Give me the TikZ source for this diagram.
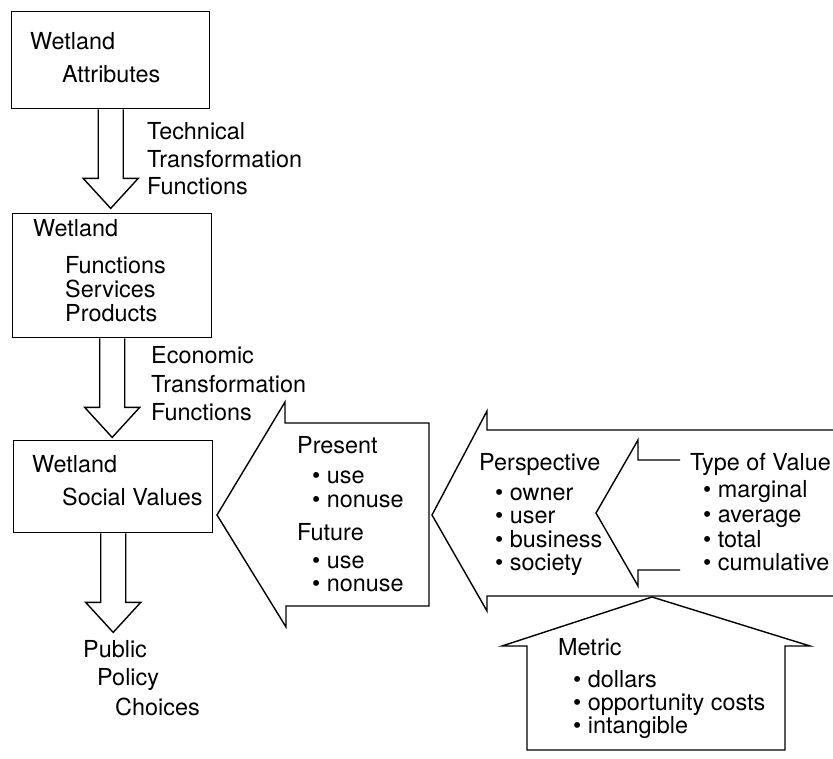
\documentclass[tikz,border=0pt]{standalone}
\usepackage{fontspec}
\setmainfont{TeX Gyre Heros}
\usepackage{tikz}

\begin{document}
\begin{tikzpicture}[x=1pt,y=-1pt,
      bx/.style={draw,line width=1.4pt,inner sep=0pt,anchor=north west},
      lbl/.style={anchor=base west,inner sep=0pt,font=\fontsize{23.4}{26}\selectfont},
      blk/.style={draw,line width=1.4pt,line join=miter}]
    \useasboundingbox (0,0) rectangle (833,759);
    % the three wetland boxes
    \node[bx,minimum width=198pt,minimum height=97pt] (attr) at (11,11) {};
    \node[bx,minimum width=199pt,minimum height=124pt] (func) at (12,213) {};
    \node[bx,minimum width=199pt,minimum height=92pt] (soc) at (13,440) {};
    \foreach \a in {attr,func,soc} {
      \draw[blk] ([xshift=-12.5pt]\a.south) -- ++(0,69) -- ++(-15,0) -- ++(27.5,30)
        -- ++(27.5,-30) -- ++(-15,0) -- ++(0,-69);
    }
    \node[lbl] (wattr) at (30,50) {Wetland};
    \node[lbl] (attrib) at (62,83) {Attributes};
    \foreach \t/\y [count=\i] in {Technical/140,Transformation/168,Functions/195}
      \node[lbl] (tech\i) at (147,\y) {\t};
    \node[lbl] (wfunc) at (33,237) {Wetland};
    \foreach \t/\y [count=\i] in {Functions/274,Services/298,Products/322}
      \node[lbl] (fsp\i) at (65,\y) {\t};
    \foreach \t/\y [count=\i] in {Economic/363,Transformation/392,Functions/420}
      \node[lbl] (econ\i) at (151,\y) {\t};
    \node[lbl] (wsoc) at (32,472) {Wetland};
    \node[lbl] (socval) at (62,505) {Social Values};
    \node[lbl] (pub1) at (83,657) {Public};
    \node[lbl] (pub2) at (97,685) {Policy};
    \node[lbl] (pub3) at (115,715) {Choices};
    % present / future
    \draw[blk] (217,515) -- (285,402) -- (285,423) -- (429,423) -- (429,606)
      -- (286,606) -- (286,627) -- cycle;
    \node[lbl] (pres) at (297,453) {Present};
    \foreach \t/\y [count=\i] in {use/483,nonuse/507}
      \node[lbl] (pres\i) at (312,\y) {\textbullet\ \t};
    \node[lbl] (fut) at (297,540) {Future};
    \foreach \t/\y [count=\i] in {use/568,nonuse/591}
      \node[lbl] (fut\i) at (312,\y) {\textbullet\ \t};
    % perspective
    \draw[blk] (833,430) -- (487,430) -- (487,411) -- (432,515) -- (487,611)
      -- (487,596) -- (833,596);
    \node[lbl] (persp) at (479,470) {Perspective};
    \foreach \t/\y [count=\i] in {owner/500,user/523,business/547,society/570}
      \node[lbl] (persp\i) at (495,\y) {\textbullet\ \t};
    % type of value
    \draw[blk] (680,460) -- (638,460) -- (638,440) -- (596,513) -- (638,586)
      -- (638,570) -- (680,570);
    \node[lbl] (tov) at (690,470) {Type of Value};
    \foreach \t/\y [count=\i] in {marginal/497,average/522,total/547,cumulative/570}
      \node[lbl] (tov\i) at (703,\y) {\textbullet\ \t};
    % metric
    \draw[blk] (527,750) -- (527,646) -- (502,646) -- (652,597) -- (810,646)
      -- (785,646) -- (785,750) -- cycle;
    \node[lbl] (metric) at (558,655) {Metric};
    \foreach \t/\y [count=\i] in {dollars/687,opportunity costs/710,intangible/733}
      \node[lbl] (metric\i) at (573,\y) {\textbullet\ \t};
  \end{tikzpicture}
\end{document}
